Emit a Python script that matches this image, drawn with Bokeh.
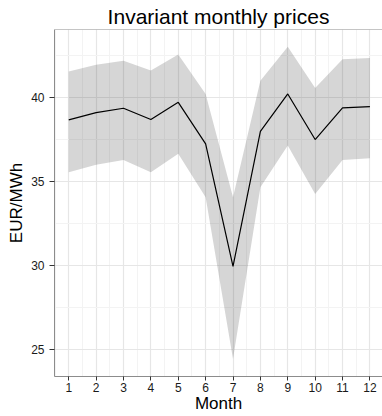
from bokeh.plotting import figure
from bokeh.models import FixedTicker, Span, ColumnDataSource
from bokeh.embed import file_html
from bokeh.resources import INLINE

months = [1, 2, 3, 4, 5, 6, 7, 8, 9, 10, 11, 12]
mean_price = [38.66, 39.09, 39.35, 38.68, 39.70, 37.23, 29.95, 37.98, 40.20, 37.49, 39.37, 39.45]
upper_price = [41.54, 41.94, 42.18, 41.59, 42.54, 40.20, 34.06, 40.99, 43.01, 40.56, 42.26, 42.34]
lower_price = [35.55, 36.00, 36.28, 35.55, 36.64, 34.06, 24.45, 34.66, 37.13, 34.26, 36.28, 36.38]
y_ticks = [25, 30, 35, 40]
y_minor = [27.5, 32.5, 37.5, 42.5]
x_minor = [0.5 + i for i in range(13)]

src = ColumnDataSource(dict(month=months, mean=mean_price, upper=upper_price, lower=lower_price))

FONT = "Liberation Sans"
Y_START = 23.41
Y_END = 44.03

p = figure(width=382, height=416, output_backend="svg", toolbar_location=None,
           x_range=(0.48, 12.46), y_range=(Y_START, Y_END),
           title="Invariant monthly prices",
           min_border_left=54, min_border_right=0, min_border_bottom=40, min_border_top=29)

p.title.text_font = FONT
p.title.text_font_size = "21px"
p.title.text_font_style = "normal"
p.title.align = "center"
p.title.standoff = 4
p.title.text_color = "#000000"

p.outline_line_color = None
p.background_fill_color = "white"
p.border_fill_color = "white"

p.varea(x="month", y1="lower", y2="upper", source=src, fill_color="#333333", fill_alpha=0.2)
p.line(x="month", y="mean", source=src, line_color="black", line_width=1.2)

p.add_layout(Span(location=Y_END, dimension="width", line_color="#8c8c8c", line_width=1))

p.xaxis.ticker = FixedTicker(ticks=months, minor_ticks=x_minor)
p.yaxis.ticker = FixedTicker(ticks=y_ticks, minor_ticks=y_minor)

for ax in (p.xaxis, p.yaxis):
    ax.axis_line_color = "#8c8c8c"
    ax.axis_line_width = 1
    ax.major_tick_in = 0
    ax.major_tick_out = 5
    ax.major_tick_line_color = "#333333"
    ax.minor_tick_in = 0
    ax.minor_tick_out = 0
    ax.major_label_text_font = FONT
    ax.major_label_text_font_size = "12px"
    ax.major_label_text_color = "#1a1a1a"
    ax.axis_label_text_font = FONT
    ax.axis_label_text_font_size = "17px"
    ax.axis_label_text_font_style = "normal"
    ax.axis_label_text_color = "#000000"

p.xaxis.axis_label = "Month"
p.yaxis.axis_label = "EUR/MWh"
p.xaxis.major_tick_out = 4
p.xaxis.major_label_standoff = 2
p.xaxis.axis_label_standoff = -1
p.yaxis.major_label_standoff = 5
p.yaxis.axis_label_standoff = 2

p.xgrid.grid_line_color = "#e6e6e6"
p.ygrid.grid_line_color = "#e6e6e6"
p.xgrid.grid_line_width = 1.2
p.ygrid.grid_line_width = 1.2
p.xgrid.minor_grid_line_color = "#f3f3f3"
p.ygrid.minor_grid_line_color = "#f3f3f3"
p.xgrid.minor_grid_line_width = 1
p.ygrid.minor_grid_line_width = 1

open("out.html", "w").write(file_html(p, INLINE))
